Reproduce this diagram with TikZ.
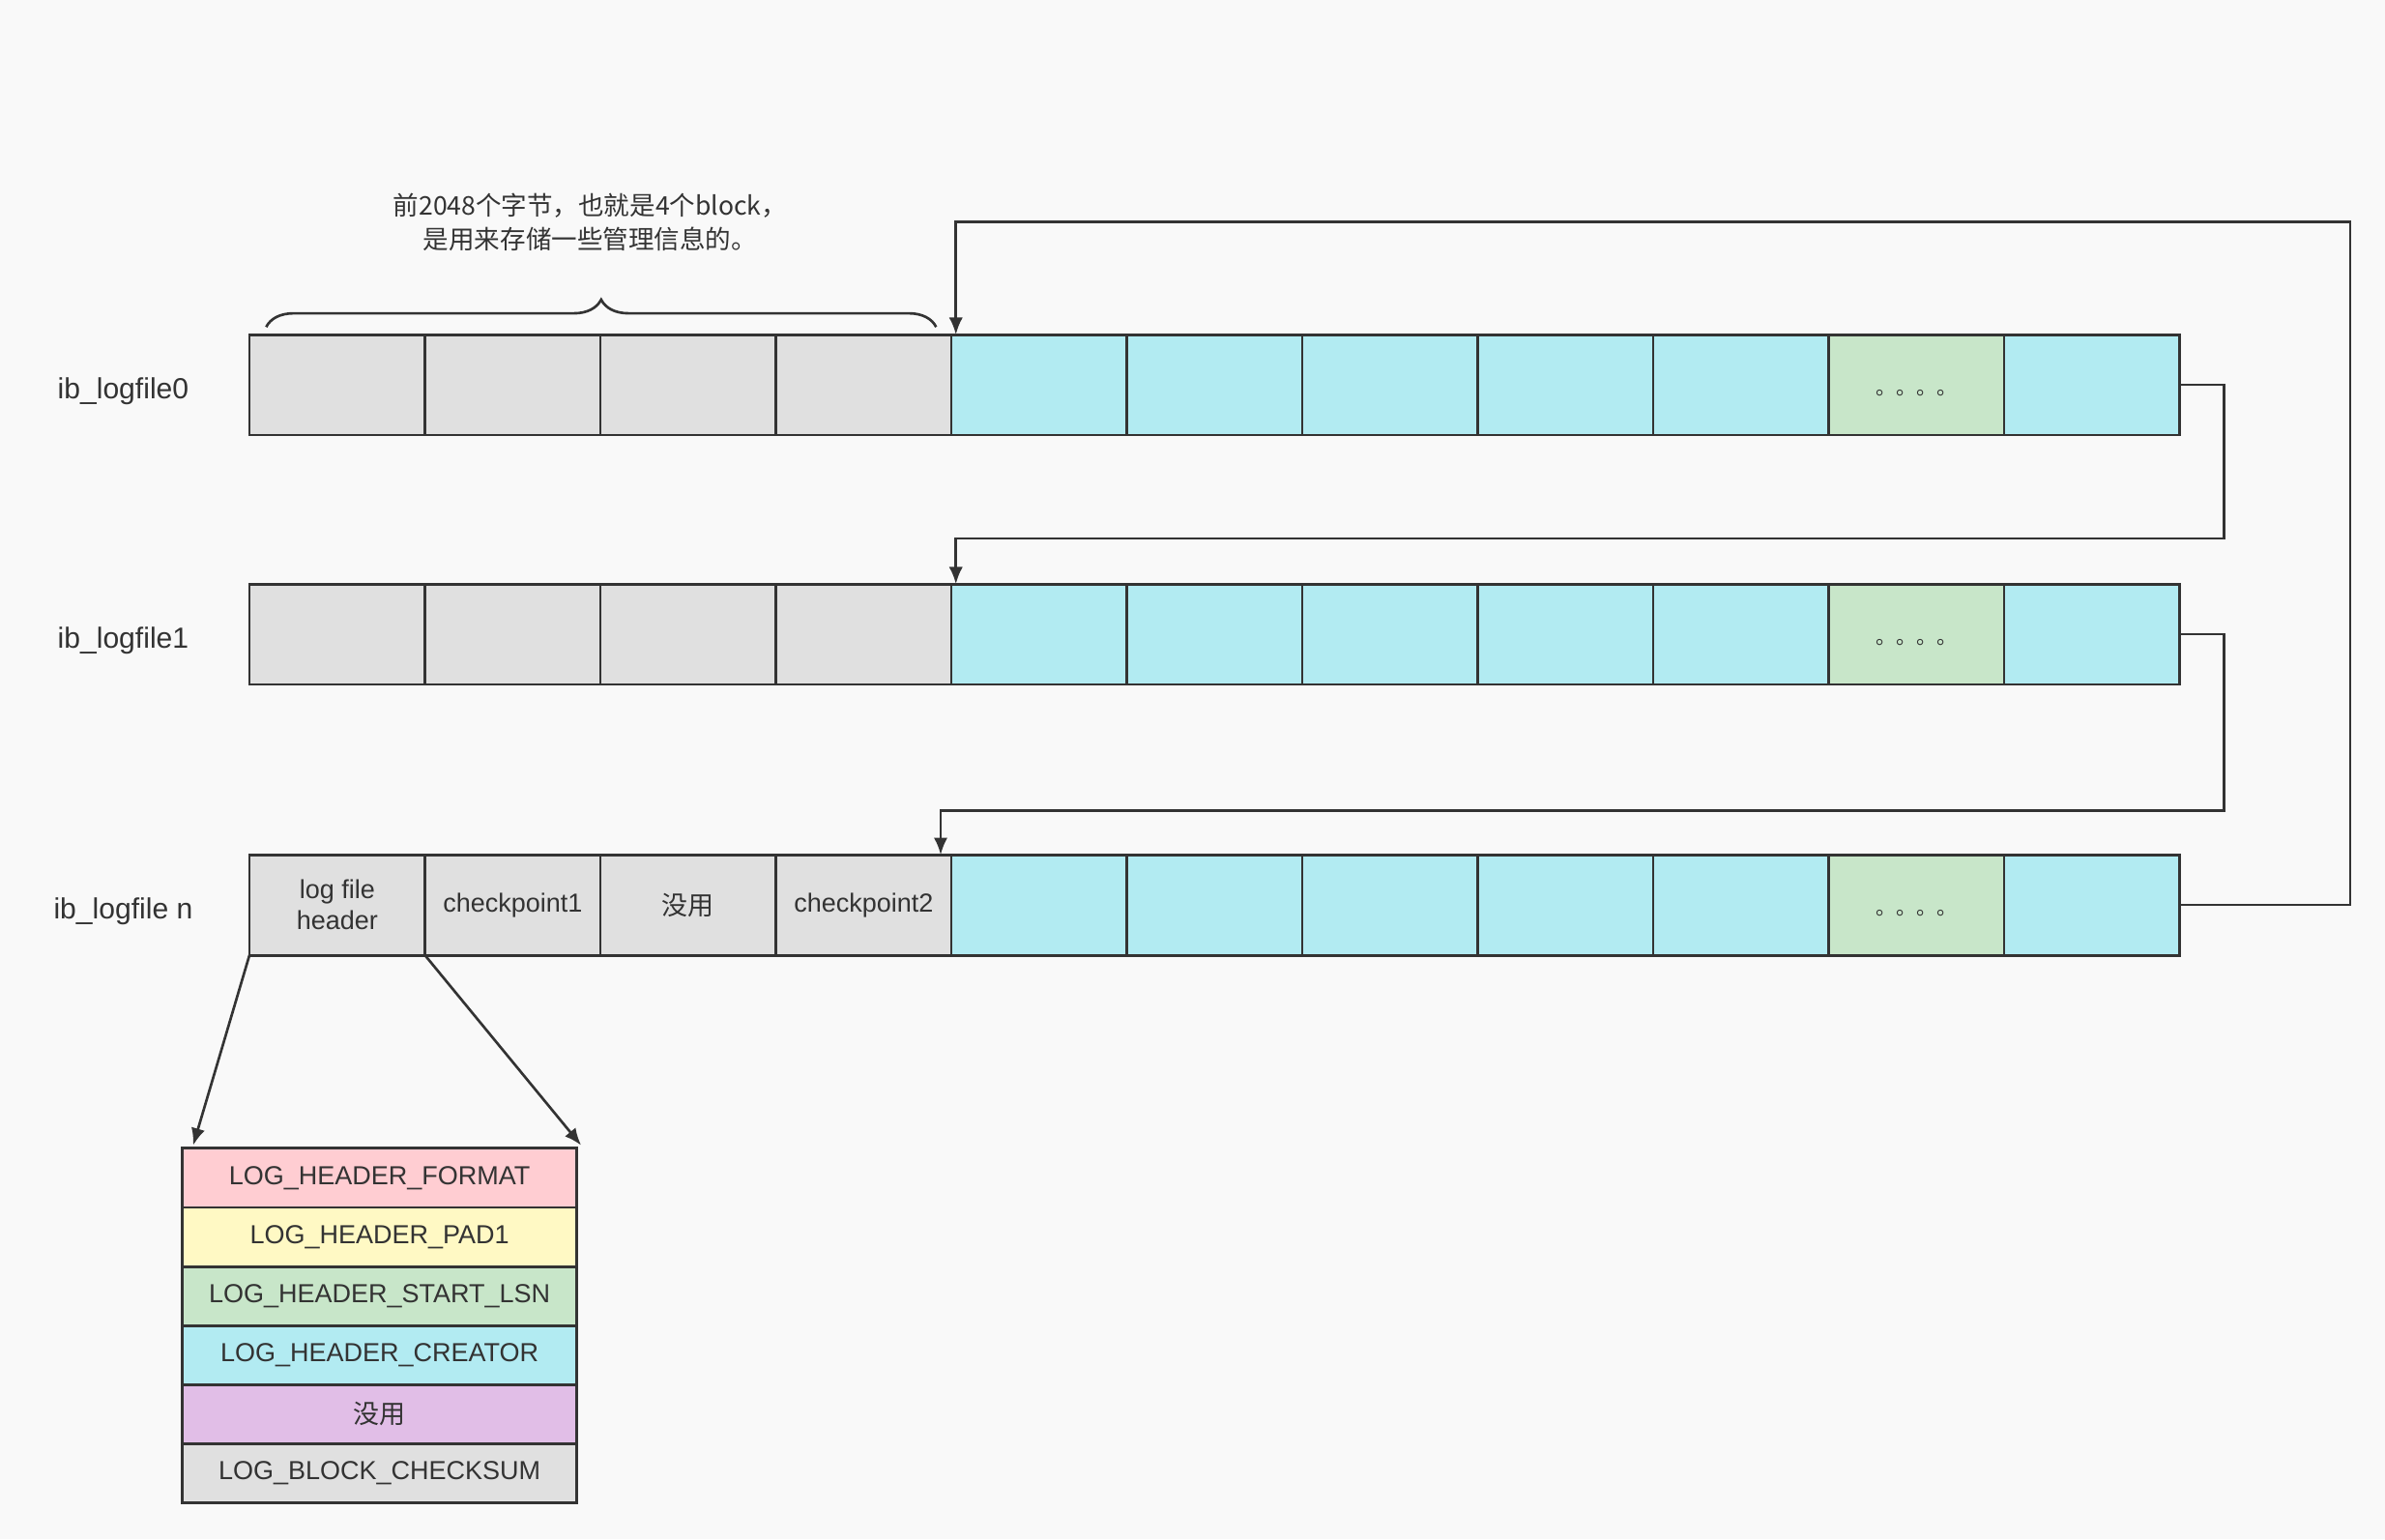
\documentclass[tikz,border=0pt]{standalone}
\usepackage{fontspec}
\setmainfont{Liberation Sans}
\newfontfamily\cjk{Noto Sans CJK SC}
\usetikzlibrary{arrows.meta,decorations.pathreplacing,calc}
\definecolor{bg}{HTML}{F9F9F9}
\definecolor{ln}{HTML}{333333}
\definecolor{tx}{HTML}{333333}
\definecolor{gy}{HTML}{E0E0E0}
\definecolor{cy}{HTML}{B2EBF2}
\definecolor{gr}{HTML}{C8E6C9}
\definecolor{pk}{HTML}{FFCDD2}
\definecolor{yl}{HTML}{FFF9C4}
\definecolor{pu}{HTML}{E1BEE7}
\begin{document}
\begin{tikzpicture}[x=0.025cm,y=-0.025cm,
  cell/.style={draw=ln, line width=1.3pt, minimum width=2.884cm, minimum height=1.65cm,
    inner sep=0pt, outer sep=0pt, anchor=north west, text=tx, align=center,
    font=\fontsize{12.2}{14.5}\selectfont},
  hcell/.style={draw=ln, line width=1.3pt, minimum width=6.475cm, minimum height=0.971cm,
    inner sep=0pt, outer sep=0pt, anchor=north west, text=tx,
    font=\fontsize{12.2}{14.5}\selectfont},
  lbl/.style={text=tx, font=\fontsize{13.6}{16}\selectfont},
  dots/.style={font=\cjk\fontsize{9.5}{11}\selectfont},
  arr/.style={draw=ln, line width=1.2pt, -{Latex[length=8pt,width=6.5pt]}},
]
\fill[bg] (0,0) rectangle (1568,1012);
\useasboundingbox (0,0) rectangle (1568,1012);

% rows 0 and 1
\foreach \r/\y in {0/220,1/384}{
  \foreach \c/\f in {0/gy,1/gy,2/gy,3/gy,4/cy,5/cy,6/cy,7/cy,8/cy,9/gr,10/cy}{
    \pgfmathsetmacro\xx{164+115.36*\c}
    \node[cell, fill=\f] (r\r-\c) at (\xx,\y) {};
  }
  \node[dots, text=tx] at ($(r\r-9.center)+(0,-0.14cm)$) {\cjk 。。。。};
}
% row n
\foreach \c/\f/\t in {0/gy/{log file\\header},1/gy/{checkpoint1},2/gy/{\cjk 没用},3/gy/{checkpoint2},
  4/cy/{},5/cy/{},6/cy/{},7/cy/{},8/cy/{},9/gr/{},10/cy/{}}{
  \pgfmathsetmacro\xx{164+115.36*\c}
  \node[cell, fill=\f] (r2-\c) at (\xx,562) {\t};
}
\node[dots, text=tx] at ($(r2-9.center)+(0,-0.14cm)$) {\cjk 。。。。};

% labels
\node[lbl] (l0) at (81,257) {ib\_logfile0};
\node[lbl] (l1) at (81,421) {ib\_logfile1};
\node[lbl] (l2) at (81,599) {ib\_logfile n};

% brace and its text
\draw[ln, line width=1.2pt, decorate, decoration={brace, amplitude=0.45cm}]
  ($(r0-0.north west)+(11,-5)$) -- ($(r0-3.north east)+(-10,-5)$);
\node[text=tx, align=center, font=\cjk\fontsize{12}{15.6}\selectfont] (bt) at (388,146)
  {前2048个字节，也就是4个block，\\是用来存储一些管理信息的。};

% header stack
\foreach \i/\f/\t in {0/pk/{LOG\_HEADER\_FORMAT},1/yl/{LOG\_HEADER\_PAD1},2/gr/{LOG\_HEADER\_START\_LSN},
  3/cy/{LOG\_HEADER\_CREATOR},4/pu/{\cjk 没用},5/gy/{LOG\_BLOCK\_CHECKSUM}}{
  \node[hcell, fill=\f] (h\i) at (120,755+38.83*\i) {\t};
}

% connectors
\coordinate (c01) at (1462,354);
\coordinate (c12) at (1462,533);
\coordinate (cn0) at (1545,146);
\draw[arr] (r0-10.east) -| (c01) -| ([xshift=0.075cm]r1-4.north west);
\draw[arr] (r1-10.east) -| (c12) -| ([xshift=-0.175cm]r2-4.north west);
\draw[arr] (r2-10.east) -| (cn0) -| ([xshift=0.075cm]r0-4.north west);
\draw[arr] (r2-0.south west) -- ([xshift=0.175cm,yshift=0.05cm]h0.north west);
\draw[arr] (r2-0.south east) -- ([xshift=0.075cm,yshift=0.05cm]h0.north east);
\end{tikzpicture}
\end{document}
